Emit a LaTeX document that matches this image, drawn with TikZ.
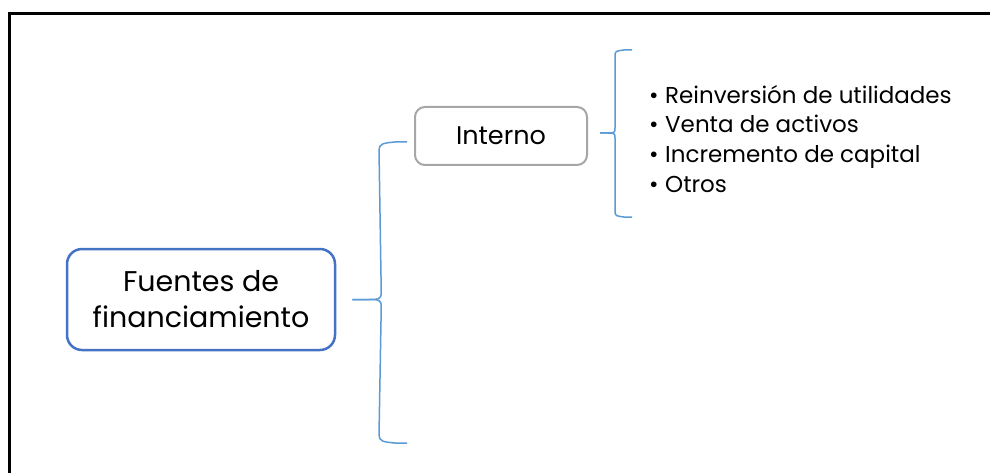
\documentclass[tikz,border=0pt]{standalone}
\usepackage{fontspec}
\setmainfont{Poppins}
\usetikzlibrary{calc}
\definecolor{mainblue}{HTML}{4472C4}
\definecolor{braceblue}{HTML}{5B9BD5}
\definecolor{boxgray}{HTML}{A6A6A6}
\newcommand{\bulletitem}[1]{\makebox[16pt][l]{•}#1}
\tikzset{
  rootbox/.style={draw=mainblue, line width=2.5pt, rounded corners=15pt,
    minimum width=268pt, minimum height=101pt, align=center, inner sep=0pt,
    font=\fontsize{28.5}{36}\selectfont},
  subbox/.style={draw=boxgray, line width=2pt, rounded corners=10pt,
    minimum width=172pt, minimum height=58pt, inner sep=0pt,
    font=\fontsize{25.5}{28}\selectfont},
  itemlist/.style={align=left, inner sep=0pt,
    font=\fontsize{23}{29.6}\selectfont},
  brace/.style={draw=braceblue, line width=1.5pt}
}
\begin{document}
\begin{tikzpicture}[x=1pt, y=-1pt]
  \useasboundingbox (0,0) rectangle (990,473);
  \clip (0,0) rectangle (990,473);
  % outer frame, running off the right and bottom edges
  \draw[line width=3pt] (1000,14) -- (9.5,14) -- (9.5,490);

  % nodes
  \node[rootbox] (fuentes) at (201,299.5) {Fuentes de\\financiamiento};
  \node[subbox] (interno) at (501,136) {Interno};
  \node[itemlist, anchor=north west] (lista) at (649,85)
    {\bulletitem{Reinversión de utilidades}\\
     \bulletitem{Venta de activos}\\
     \bulletitem{Incremento de capital}\\
     \bulletitem{Otros}};

  % first brace: root -> Interno and an empty branch
  \coordinate (b1tip) at ([xshift=16]fuentes.east);
  \coordinate (b1top) at ([shift={(-7,6)}]interno.west);
  \coordinate (b1bot) at ([shift={(0,301)}]b1top);
  \draw[brace] (b1tip) -- ++(17,0) .. controls +(9,0) and +(0,7) .. ++(12,-7)
    -- ($(b1top)+(-28,8)$) .. controls +(0,-6) and +(-12,1) .. ($(b1top)+(-12,0)$)
    -- (b1top);
  \draw[brace] (b1tip) -- ++(17,0) .. controls +(9,0) and +(0,-7) .. ++(12,7)
    -- ($(b1bot)+(-28,-8)$) .. controls +(0,6) and +(-12,-1) .. ($(b1bot)+(-12,0)$)
    -- (b1bot);

  % second brace: Interno -> list of items
  \coordinate (b2tip) at ([shift={(12,-3)}]interno.east);
  \coordinate (b2top) at ([shift={(32,-83)}]b2tip);
  \coordinate (b2bot) at ([shift={(32,84)}]b2tip);
  \draw[brace] (b2tip) -- ++(8,0) .. controls +(6,0) and +(0,5) .. ++(7,-5)
    -- ($(b2top)+(-17,6)$) .. controls +(0,-5) and +(-8,1) .. ($(b2top)+(-8,0)$)
    -- (b2top);
  \draw[brace] (b2tip) -- ++(8,0) .. controls +(6,0) and +(0,-5) .. ++(7,5)
    -- ($(b2bot)+(-17,-6)$) .. controls +(0,5) and +(-8,-1) .. ($(b2bot)+(-8,0)$)
    -- (b2bot);
\end{tikzpicture}
\end{document}
